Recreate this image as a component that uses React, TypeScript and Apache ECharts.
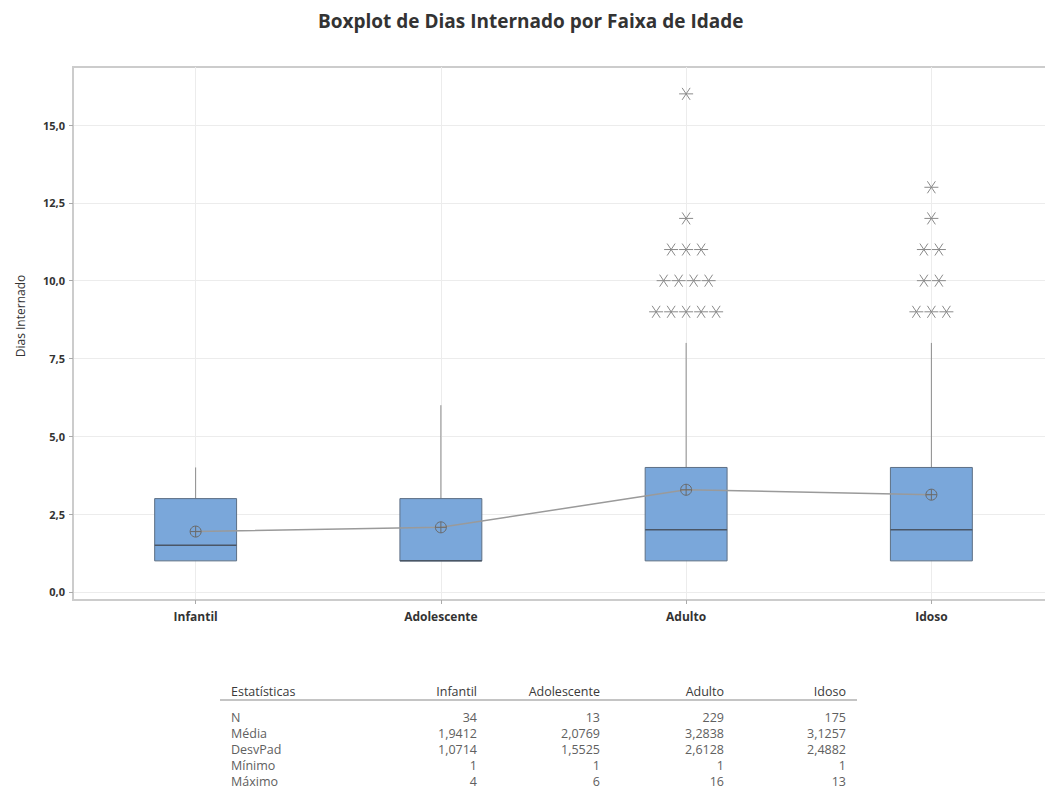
import React, { useEffect, useRef } from "react";
import * as echarts from "echarts";

const categories = ["Infantil", "Adolescente", "Adulto", "Idoso"];
const minimo = [1, 1, 1, 1];
const q1 = [1, 1, 1, 1];
const mediana = [1.5, 1, 2, 2];
const q3 = [3, 3, 4, 4];
const whiskerMax = [4, 6, 8, 8];
const media = [1.9412, 2.0769, 3.2838, 3.1257];
const desvPad = [1.0714, 1.5525, 2.6128, 2.4882];
const contagem = [34, 13, 229, 175];
const maximo = [4, 6, 16, 13];
const outliersInfantil: number[] = [];
const outliersAdolescente: number[] = [];
const outliersAdulto = [9, 9, 9, 9, 9, 10, 10, 10, 10, 11, 11, 11, 12, 16];
const outliersIdoso = [9, 9, 9, 10, 10, 11, 11, 12, 13];
const yTicks = [0, 2.5, 5, 7.5, 10, 12.5, 15];
const xTicks = [0, 1, 2, 3];
const statNames = ["N", "Média", "DesvPad", "Mínimo", "Máximo"];

const FONT = "'Open Sans', 'Noto Sans', sans-serif";

function fmt(v: number, d: number) {
  return v.toFixed(d).replace(".", ",");
}

export default function App() {
  const ref = useRef<HTMLDivElement>(null);
  useEffect(() => {
    document.body.style.margin = "0";
    const chart = echarts.init(ref.current!, null, { renderer: "svg" });

    const boxData = categories.map((_, i) => [i, minimo[i], q1[i], mediana[i], q3[i], whiskerMax[i]]);
    const outGroups = [outliersInfantil, outliersAdolescente, outliersAdulto, outliersIdoso];
    const outData: number[][] = [];
    outGroups.forEach((arr, gi) => {
      const counts: Record<string, number> = {};
      arr.forEach((v) => (counts[v] = (counts[v] || 0) + 1));
      const seen: Record<string, number> = {};
      arr.forEach((v) => {
        const k = seen[v] || 0;
        seen[v] = k + 1;
        outData.push([gi, v, k, counts[v]]);
      });
    });
    const meanData = media.map((m, i) => [i, m]);

    const colRight = [477, 600, 724, 846];
    const tableRows: string[][] = [
      contagem.map(String),
      media.map((v) => fmt(v, 4)),
      desvPad.map((v) => fmt(v, 4)),
      minimo.map(String),
      maximo.map(String),
    ];
    const tfont = `12.5px ${FONT}`;
    const graphics: any[] = [];
    graphics.push({
      type: "text", x: 20, y: 316, rotation: Math.PI / 2,
      style: { text: "Dias Internado", font: `12px ${FONT}`, fill: "#333", textAlign: "center", textVerticalAlign: "middle" },
    });
    graphics.push({
      type: "text", x: 231, y: 691,
      style: { text: "Estatísticas", font: tfont, lineHeight: 14, fill: "#3a3a3a", textVerticalAlign: "middle" },
    });
    categories.forEach((c, i) => {
      graphics.push({
        type: "text", x: colRight[i], y: 691,
        style: { text: c, font: tfont, lineHeight: 14, fill: "#3a3a3a", textAlign: "right", textVerticalAlign: "middle" },
      });
    });
    graphics.push({
      type: "line", shape: { x1: 220, y1: 700, x2: 857, y2: 700 },
      style: { stroke: "#c4c4c4", lineWidth: 2 },
    });
    statNames.forEach((s, r) => {
      const y = 717 + r * 16;
      graphics.push({
        type: "text", x: 231, y,
        style: { text: s, font: tfont, lineHeight: 14, fill: "#606060", textVerticalAlign: "middle" },
      });
      tableRows[r].forEach((t, i) => {
        graphics.push({
          type: "text", x: colRight[i], y,
          style: { text: t, font: tfont, lineHeight: 14, fill: "#606060", textAlign: "right", textVerticalAlign: "middle" },
        });
      });
    });

    chart.setOption({
      animation: false,
      backgroundColor: "#ffffff",
      title: {
        text: "Boxplot de Dias Internado por Faixa de Idade",
        left: 313,
        top: 6,
        textStyle: { fontFamily: FONT, fontSize: 19, fontWeight: "bold", color: "#333" },
      },
      grid: {
        left: 73, right: -9, top: 67, bottom: 201,
        show: true, borderColor: "#cccccc", borderWidth: 2,
        containLabel: false, outerBoundsMode: "none",
      },
      xAxis: {
        type: "value", min: -0.5, max: 3.5,
        axisLine: { show: true, onZero: false, lineStyle: { color: "#cccccc", width: 2 } },
        axisTick: { show: true, length: 4, customValues: xTicks, lineStyle: { color: "#aaaaaa" } },
        axisLabel: {
          customValues: xTicks,
          formatter: (v: number) => categories[Math.round(v)] ?? "",
          margin: 10, fontFamily: FONT, fontSize: 12, fontWeight: "bold", color: "#333",
        },
        splitLine: { show: true, lineStyle: { color: "#ececec", width: 1 } },
      },
      yAxis: {
        type: "value", min: -0.257, max: 16.863,
        axisLine: { show: true, onZero: false, lineStyle: { color: "#cccccc", width: 2 } },
        axisTick: { show: true, length: 4, customValues: yTicks, lineStyle: { color: "#aaaaaa" } },
        axisLabel: {
          customValues: yTicks,
          formatter: (v: number) => fmt(v, 1),
          margin: 8, fontFamily: FONT, fontSize: 11, fontWeight: "bold", color: "#333",
        },
        splitLine: { show: true, lineStyle: { color: "#ececec", width: 1 } },
      },
      graphic: graphics,
      series: [
        {
          type: "custom",
          data: boxData,
          z: 2,
          renderItem: (params: any, api: any) => {
            const i = api.value(0);
            const lo = api.coord([i, api.value(1)]);
            const b1 = api.coord([i, api.value(2)]);
            const md = api.coord([i, api.value(3)]);
            const b3 = api.coord([i, api.value(4)]);
            const hi = api.coord([i, api.value(5)]);
            const hw = api.size([1, 0])[0] * 0.167;
            const x = b1[0];
            return {
              type: "group",
              children: [
                { type: "line", shape: { x1: x, y1: b3[1], x2: x, y2: hi[1] }, style: { stroke: "#8c8c8c", lineWidth: 1 } },
                { type: "line", shape: { x1: x, y1: lo[1], x2: x, y2: b1[1] }, style: { stroke: "#8c8c8c", lineWidth: 1 } },
                {
                  type: "rect",
                  shape: { x: x - hw, y: b3[1], width: 2 * hw, height: b1[1] - b3[1] },
                  style: { fill: "#7aa7da", stroke: "#5d6f84", lineWidth: 1 },
                },
                { type: "line", shape: { x1: x - hw, y1: md[1], x2: x + hw, y2: md[1] }, style: { stroke: "#4a5666", lineWidth: 1.5 } },
              ],
            };
          },
        },
        {
          type: "custom",
          data: outData,
          z: 3,
          clip: false,
          renderItem: (params: any, api: any) => {
            const p = api.coord([api.value(0), api.value(1)]);
            const k = api.value(2);
            const n = api.value(3);
            const cx = p[0] + (k - (n - 1) / 2) * 15;
            const cy = p[1];
            const st = { stroke: "#8a8a8a", lineWidth: 1 };
            return {
              type: "group",
              children: [
                { type: "line", shape: { x1: cx - 7, y1: cy, x2: cx + 7, y2: cy }, style: st },
                { type: "line", shape: { x1: cx - 4, y1: cy - 6, x2: cx + 4, y2: cy + 6 }, style: st },
                { type: "line", shape: { x1: cx + 4, y1: cy - 6, x2: cx - 4, y2: cy + 6 }, style: st },
              ],
            };
          },
        },
        {
          type: "line",
          data: meanData,
          z: 4,
          showSymbol: false,
          lineStyle: { color: "#9a9a9a", width: 1.5 },
        },
        {
          type: "custom",
          data: meanData,
          z: 5,
          renderItem: (params: any, api: any) => {
            const p = api.coord([api.value(0), api.value(1)]);
            const r = 5.5;
            const st = { stroke: "#6a6a6a", lineWidth: 1, fill: "none" };
            return {
              type: "group",
              children: [
                { type: "circle", shape: { cx: p[0], cy: p[1], r }, style: st },
                { type: "line", shape: { x1: p[0] - r, y1: p[1], x2: p[0] + r, y2: p[1] }, style: st },
                { type: "line", shape: { x1: p[0], y1: p[1] - r, x2: p[0], y2: p[1] + r }, style: st },
              ],
            };
          },
        },
      ],
    });
    return () => chart.dispose();
  }, []);
  return <div ref={ref} style={{ width: 1045, height: 801 }} />;
}
